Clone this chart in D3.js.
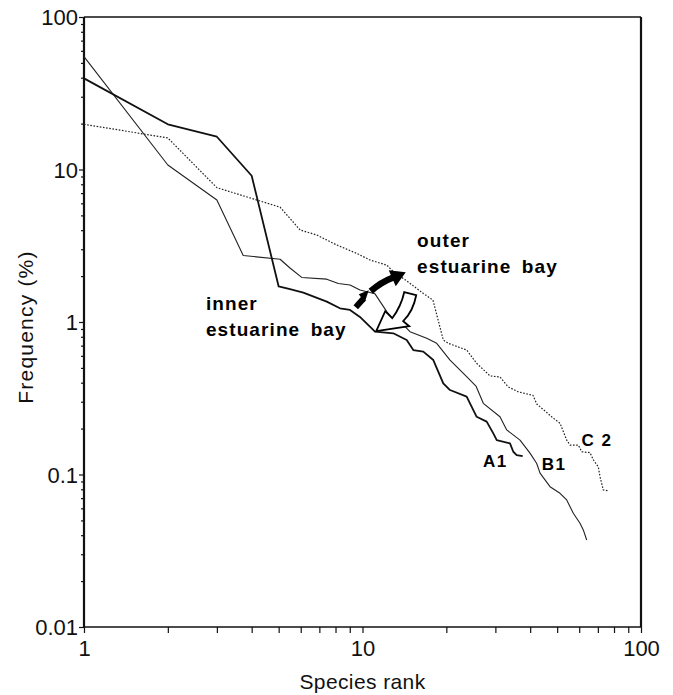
<!DOCTYPE html>
<html>
<head>
<meta charset="utf-8">
<script src="https://cdn.jsdelivr.net/npm/d3@7/dist/d3.min.js"></script>
<style>
  body { margin: 0; background: #fff; }
  svg { display: block; font-family: "Liberation Sans", Arial, Helvetica, sans-serif; }
</style>
</head>
<body>
<div id="chart"></div>
<script>
// rank-frequency curves, [species rank, frequency %]
const seriesA1 = [
  [1, 39.6], [2, 19.8], [3, 16.4], [4, 9.1], [5, 1.71], [5.49, 1.64], [6.13, 1.56],
  [7.44, 1.36], [8.3, 1.23], [9.02, 1.2], [9.79, 1.08], [11.09, 0.864], [12.9, 0.843],
  [14.41, 0.762], [15.22, 0.655], [16.53, 0.639], [17.96, 0.563], [19.5, 0.396],
  [20.62, 0.358], [23.66, 0.324], [25.7, 0.239], [27.92, 0.222], [29.49, 0.186],
  [30.34, 0.168], [33.85, 0.16], [34.79, 0.141], [35.78, 0.134], [37.6, 0.132]
];
const seriesB1 = [
  [1, 55], [2, 10.7], [3, 6.31], [3.73, 2.73], [5.06, 2.58], [5.49, 2.26], [6.05, 1.96],
  [7.44, 1.91], [8.19, 1.79], [9.02, 1.75], [9.79, 1.62], [11.09, 1.53], [12.22, 1.17],
  [13.27, 0.985], [14.01, 0.956], [14.81, 0.864], [17.0, 0.782], [18.47, 0.725],
  [20.62, 0.563], [23.66, 0.438], [25.55, 0.38], [27.15, 0.293], [31.16, 0.239],
  [32.95, 0.196], [36.78, 0.168], [39.94, 0.138], [42.23, 0.118], [43.4, 0.102],
  [47.13, 0.0832], [51.19, 0.0753], [54.1, 0.0681], [57.14, 0.0557], [60.39, 0.0479],
  [62.06, 0.0433], [63.83, 0.0372]
];
const seriesC2 = [
  [1, 19.8], [2, 16.1], [3, 7.6], [5.06, 5.66], [5.97, 4.01], [6.85, 3.72], [8.08, 3.2],
  [9.53, 2.82], [10.64, 2.55], [12.22, 2.36], [12.9, 2.14], [14.41, 1.86], [16.53, 1.54],
  [17.91, 1.39], [19.5, 0.762], [20.33, 0.725], [23.66, 0.655], [24.66, 0.592],
  [25.7, 0.536], [28.7, 0.443], [31.16, 0.436], [33.3, 0.376], [36.17, 0.349],
  [40.95, 0.33], [42.23, 0.29], [45.86, 0.255], [48.43, 0.234], [51.19, 0.217],
  [54.1, 0.168], [55.61, 0.156], [59.56, 0.156], [61.25, 0.141], [65.61, 0.139],
  [67.42, 0.125], [70.27, 0.112], [71.26, 0.0967], [73.21, 0.0791], [76.3, 0.0783]
];

const xLabels = [1, 10, 100];
const yLabels = [0.01, 0.1, 1, 10, 100];

// labels placed in data space: [text, rank, frequency]
const curveLabels = [["A1", 27.1, 0.112], ["B1", 44.0, 0.107], ["C 2", 61.2, 0.154]];
const zoneLabels = [
  ["outer", 15.7, 3.1], ["estuarine bay", 15.7, 2.1],
  ["inner", 2.74, 1.2], ["estuarine bay", 2.74, 0.81]
];

const width = 673, height = 695;
const margin = { top: 17, right: 32, bottom: 68, left: 84 };
const plot = {
  left: margin.left, right: width - margin.right,
  top: margin.top, bottom: height - margin.bottom
};

const svg = d3.select('#chart').append('svg')
  .attr('width', width)
  .attr('height', height)
  .attr('viewBox', `0 0 ${width} ${height}`);

const x = d3.scaleLog().domain([1, 100]).range([plot.left, plot.right]);
const y = d3.scaleLog().domain([0.01, 100]).range([plot.bottom, plot.top]);

const isMajor = (d) => Math.abs(Math.log10(d) - Math.round(Math.log10(d))) < 1e-6;
const labelOf = (list) => (d) => {
  const k = list.find((v) => Math.abs(v - d) / v < 1e-6);
  return k === undefined ? '' : String(k);
};

// y axis (ticks outside, left)
const yAxis = svg.append('g')
  .attr('transform', `translate(${plot.left},0)`)
  .call(d3.axisLeft(y).tickValues(y.ticks()).tickSize(3).tickPadding(3).tickFormat(labelOf(yLabels)));
yAxis.select('.domain').remove();
yAxis.selectAll('.tick line').attr('x2', (d) => isMajor(d) ? -5 : -3).attr('stroke', '#111').attr('stroke-width', 1.2);
yAxis.selectAll('.tick text')
  .attr('font-size', 22).attr('font-family', 'Liberation Sans, Arial, sans-serif')
  .attr('fill', '#111').attr('x', -6).attr('dy', '0.36em');

// x axis (ticks outside, down)
const xAxis = svg.append('g')
  .attr('transform', `translate(0,${plot.bottom})`)
  .call(d3.axisBottom(x).tickValues(x.ticks()).tickSize(6).tickPadding(7).tickFormat(labelOf(xLabels)));
xAxis.select('.domain').remove();
xAxis.selectAll('.tick line').attr('stroke', '#111').attr('stroke-width', 1.2);
xAxis.selectAll('.tick text')
  .attr('font-size', 22).attr('font-family', 'Liberation Sans, Arial, sans-serif')
  .attr('fill', '#111');

// frame
const frame = svg.append('g').attr('stroke', '#111').attr('fill', 'none');
frame.append('line').attr('x1', plot.left).attr('x2', plot.left).attr('y1', plot.top).attr('y2', plot.bottom).attr('stroke-width', 2.2);
frame.append('line').attr('x1', plot.left).attr('x2', plot.right).attr('y1', plot.bottom).attr('y2', plot.bottom).attr('stroke-width', 1.5);
frame.append('line').attr('x1', plot.left).attr('x2', plot.right).attr('y1', plot.top).attr('y2', plot.top).attr('stroke-width', 1.6);
frame.append('line').attr('x1', plot.right).attr('x2', plot.right).attr('y1', plot.top).attr('y2', plot.bottom).attr('stroke-width', 2.2);

// axis titles
svg.append('text')
  .attr('x', (plot.left + plot.right) / 2).attr('y', 689)
  .attr('text-anchor', 'middle').attr('font-size', 21).attr('letter-spacing', 0.4).attr('fill', '#111')
  .text('Species rank');
svg.append('text')
  .attr('transform', `translate(33,${(plot.top + plot.bottom) / 2 + 5}) rotate(-90)`)
  .attr('text-anchor', 'middle').attr('font-size', 21).attr('letter-spacing', 1.2).attr('fill', '#111')
  .text('Frequency (%)');

// curves
const line = d3.line().x((d) => x(d[0])).y((d) => y(d[1]));
const curves = svg.append('g').attr('fill', 'none').attr('stroke-linejoin', 'round');
curves.append('path').datum(seriesC2).attr('d', line)
  .attr('stroke', '#222').attr('stroke-width', 1.2).attr('stroke-dasharray', '1.6,1.6');
curves.append('path').datum(seriesB1).attr('d', line)
  .attr('stroke', '#222').attr('stroke-width', 1.1);
curves.append('path').datum(seriesA1).attr('d', line)
  .attr('stroke', '#111').attr('stroke-width', 1.8);

// arrows: black one upward (inner -> outer), hollow one downward
const arrows = svg.append('g');
const bt = [x(14.3), y(2.12)]; // black arrow tip
arrows.append('path')
  .attr('d', `M${bt[0] - 50},${bt[1] + 35} L${bt[0] - 42},${bt[1] + 26}`)
  .attr('stroke', '#000').attr('stroke-width', 6).attr('fill', 'none');
arrows.append('path')
  .attr('d', `M${bt[0] - 47},${bt[1] + 22} L${bt[0] - 37},${bt[1] + 18} L${bt[0] - 41},${bt[1] + 30} Z`)
  .attr('fill', '#000');
arrows.append('path')
  .attr('d', `M${bt[0] - 35},${bt[1] + 19} Q${bt[0] - 25},${bt[1] + 10} ${bt[0] - 12},${bt[1] + 5}`)
  .attr('stroke', '#000').attr('stroke-width', 6.5).attr('fill', 'none');
arrows.append('path')
  .attr('d', `M${bt[0]},${bt[1]} L${bt[0] - 17},${bt[1] - 2} L${bt[0] - 10},${bt[1] + 14} Z`)
  .attr('fill', '#000');

const wt = [x(11.2), y(0.87)]; // hollow arrow tip
arrows.append('path')
  .attr('d', [
    `M${wt[0] + 28},${wt[1] - 39}`,
    `L${wt[0] + 40},${wt[1] - 36}`,
    `Q${wt[0] + 37},${wt[1] - 20} ${wt[0] + 27},${wt[1] - 10}`,
    `L${wt[0] + 33},${wt[1] - 5}`,
    `L${wt[0]},${wt[1]}`,
    `L${wt[0] + 9},${wt[1] - 20}`,
    `L${wt[0] + 16},${wt[1] - 13}`,
    `Q${wt[0] + 25},${wt[1] - 25} ${wt[0] + 28},${wt[1] - 39}`,
    'Z'
  ].join(' '))
  .attr('fill', '#fff').attr('stroke', '#000').attr('stroke-width', 1.8).attr('stroke-linejoin', 'miter');

// text labels
svg.append('g').selectAll('text')
  .data(zoneLabels)
  .join('text')
  .attr('x', (d) => x(d[1])).attr('y', (d) => y(d[2]))
  .attr('font-size', 19).attr('font-weight', 'bold').attr('letter-spacing', 1.1)
  .attr('word-spacing', 4).attr('fill', '#000')
  .text((d) => d[0]);

svg.append('g').selectAll('text')
  .data(curveLabels)
  .join('text')
  .attr('x', (d) => x(d[1])).attr('y', (d) => y(d[2]))
  .attr('font-size', 17).attr('font-weight', 'bold').attr('letter-spacing', 1.5)
  .attr('fill', '#000')
  .text((d) => d[0]);
</script>
</body>
</html>
